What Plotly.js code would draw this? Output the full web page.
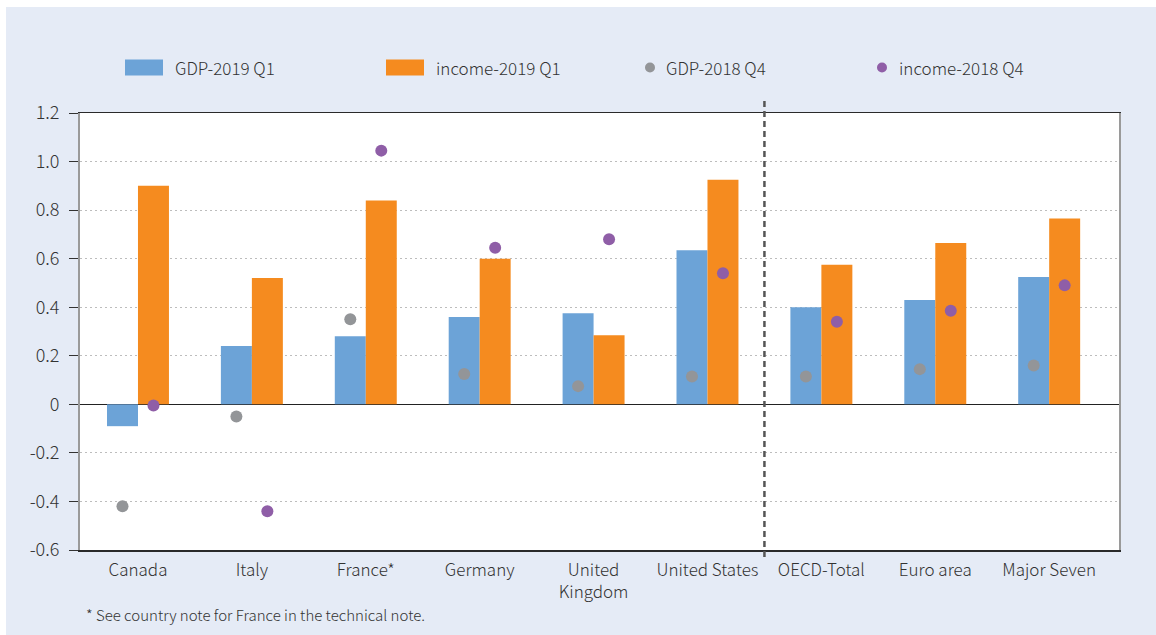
<!DOCTYPE html>
<html>
<head>
<meta charset="utf-8">
<script src="https://cdn.plot.ly/plotly-3.0.1.min.js"></script>
<style>
  html, body { margin: 0; padding: 0; background: #ffffff; }
  #chart { position: absolute; left: 6px; top: 7px; width: 1150px; height: 628px; }
</style>
</head>
<body>
<div id="chart"></div>
<script>
// ---- Data ----
const categories = ["Canada", "Italy", "France*", "Germany", "United<br>Kingdom", "United States", "OECD-Total", "Euro area", "Major Seven"];
const gdp2019Q1    = [-0.09, 0.24, 0.28, 0.36, 0.375, 0.635, 0.40, 0.43, 0.525];
const income2019Q1 = [0.90, 0.52, 0.84, 0.60, 0.285, 0.925, 0.575, 0.665, 0.765];
const gdp2018Q4    = [-0.42, -0.05, 0.35, 0.125, 0.075, 0.115, 0.115, 0.145, 0.16];
const income2018Q4 = [-0.005, -0.44, 1.045, 0.645, 0.68, 0.54, 0.34, 0.385, 0.49];
const yTickVals  = [-0.6, -0.4, -0.2, 0, 0.2, 0.4, 0.6, 0.8, 1.0, 1.2];
const yTickText  = ["-0.6", "-0.4", "-0.2", "0", "0.2", "0.4", "0.6", "0.8", "1.0", "1.2"];
const seriesNames = ["GDP-2019 Q1", "income-2019 Q1", "GDP-2018 Q4", "income-2018 Q4"];
const footnote = "* See country note for France in the technical note.";

// ---- Style ----
const FONT = "Noto Sans CJK KR, Noto Sans, sans-serif";
const FW = 300;
const C_BLUE = "#6CA3D7", C_ORANGE = "#F58B1F", C_GRAY = "#939598", C_PURPLE = "#8F5EA7";
const BG = "#E5EBF6";
const GAP = 0.456;

const traces = [
  { type: "bar", name: seriesNames[0], x: categories, y: gdp2019Q1, marker: { color: C_BLUE }, offsetgroup: "a", showlegend: false, hoverinfo: "y" },
  { type: "bar", name: seriesNames[1], x: categories, y: income2019Q1, marker: { color: C_ORANGE }, offsetgroup: "b", showlegend: false, hoverinfo: "y" },
  { type: "scatter", mode: "markers", name: seriesNames[2], x: categories, y: gdp2018Q4, marker: { color: C_GRAY, size: 12 }, offsetgroup: "a", showlegend: false, hoverinfo: "y" },
  { type: "scatter", mode: "markers", name: seriesNames[3], x: categories, y: income2018Q4, marker: { color: C_PURPLE, size: 12 }, offsetgroup: "b", showlegend: false, hoverinfo: "y" }
];

// pixel helpers (page px -> paper coords of the plot area)
const PL = 80, PR = 1119, PT = 112.5, PB = 550;
const px = x => (x - PL) / (PR - PL);
const py = y => (PB - y) / (PB - PT);

const legendItems = [
  { kind: "rect", color: C_BLUE,   x0: 125, x1: 163, tx: 173, text: seriesNames[0] },
  { kind: "rect", color: C_ORANGE, x0: 386, x1: 424, tx: 434, text: seriesNames[1] },
  { kind: "dot",  color: C_GRAY,   x0: 645, x1: 655, tx: 664, text: seriesNames[2] },
  { kind: "dot",  color: C_PURPLE, x0: 877, x1: 887, tx: 897, text: seriesNames[3] }
];
const LY = 67;

const shapes = [
  { type: "line", xref: "x", yref: "paper", x0: 5.5, x1: 5.5, y0: py(557), y1: py(98),
    line: { color: "#555555", width: 2.5, dash: "6px,4px" } }
];
const annotations = [];
legendItems.forEach(it => {
  if (it.kind === "rect") {
    shapes.push({ type: "rect", xref: "paper", yref: "paper", x0: px(it.x0), x1: px(it.x1), y0: py(LY + 8), y1: py(LY - 8),
      fillcolor: it.color, line: { width: 0 } });
  } else {
    shapes.push({ type: "circle", xref: "paper", yref: "paper", x0: px(it.x0), x1: px(it.x1), y0: py(LY + 5), y1: py(LY - 5),
      fillcolor: it.color, line: { width: 0 } });
  }
  annotations.push({ xref: "paper", yref: "paper", x: px(it.tx), y: py(LY), xanchor: "left", yanchor: "middle",
    text: it.text, showarrow: false, font: { family: FONT, size: 17, color: "#333333", weight: FW } });
});
annotations.push({ xref: "paper", yref: "paper", x: px(84), y: py(615), xanchor: "left", yanchor: "middle",
  text: footnote, showarrow: false, font: { family: FONT, size: 15, color: "#333333", weight: FW } });

const layout = {
  width: 1150, height: 628,
  margin: { l: PL - 6, r: 1150 - (PR - 6), t: PT - 7, b: 628 - (PB - 7), pad: 0 },
  paper_bgcolor: BG, plot_bgcolor: "#ffffff",
  font: { family: FONT, size: 17, color: "#333333", weight: FW },
  barmode: "group", bargap: GAP, bargroupgap: 0,
  scattermode: "group", scattergap: GAP,
  showlegend: false,
  xaxis: {
    type: "category", range: [-0.509, 8.613], fixedrange: true,
    showgrid: false, ticks: "", showline: true, mirror: true, linecolor: "#2a2a2a", linewidth: 1.5,
    tickfont: { family: FONT, size: 17, color: "#333333", weight: FW }, ticklabelstandoff: 4
  },
  yaxis: {
    range: [-0.6, 1.2], tickvals: yTickVals, ticktext: yTickText, fixedrange: true,
    showgrid: true, gridcolor: "#bdbdbd", gridwidth: 1, griddash: "2px,3px",
    zeroline: true, zerolinecolor: "#222222", zerolinewidth: 1.5,
    showline: true, mirror: true, linecolor: "#9a9a9a", linewidth: 2,
    ticks: "outside", ticklen: 9, tickcolor: "#333333", tickwidth: 1,
    tickfont: { family: FONT, size: 18, color: "#333333", weight: FW }, ticklabelstandoff: 6
  },
  shapes: shapes,
  annotations: annotations
};

Plotly.newPlot("chart", traces, layout, { displayModeBar: false, staticPlot: true });
</script>
</body>
</html>
